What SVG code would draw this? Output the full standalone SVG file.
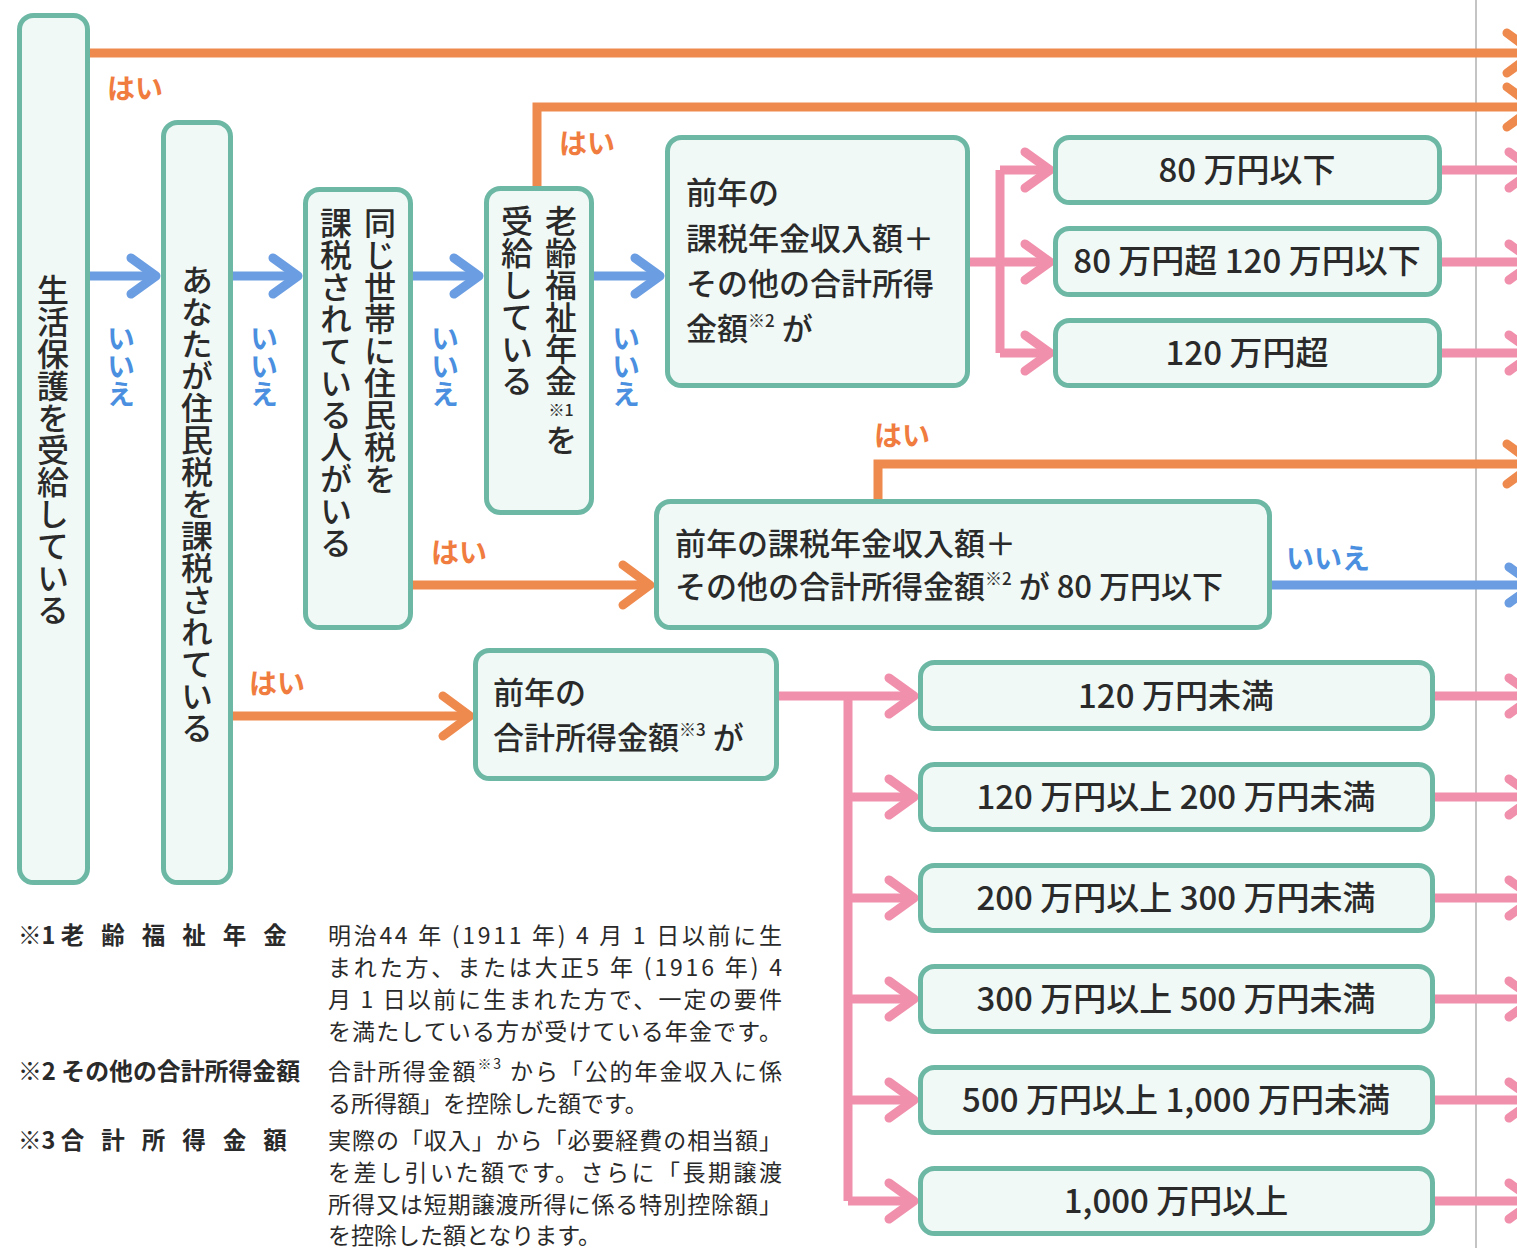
<svg xmlns="http://www.w3.org/2000/svg" width="1517" height="1248" viewBox="0 0 1517 1248">
<style>
.box{fill:#f0f9f6;stroke:#6cb8a5;stroke-width:5}
.t{font-family:"Noto Sans CJK JP","Noto Sans",sans-serif;font-weight:500;fill:#2a2a2a}
.v{writing-mode:vertical-rl}
.big{font-size:32px}
.mid{font-size:31px}
.lab{font-size:33px}
.sup{font-size:17px}
.fn{font-size:23px;font-weight:400}
.fb{font-size:23.5px;font-weight:700}
.yes{font-family:"Noto Sans CJK JP","Noto Sans",sans-serif;font-weight:700;font-size:28px;fill:#f07c40}
.no{font-family:"Noto Sans CJK JP","Noto Sans",sans-serif;font-weight:700;font-size:28px;fill:#4a8fe0}
.c{fill:none;stroke-width:9}
.o{stroke:#ef8a4e}
.b{stroke:#6b9de2}
.p{stroke:#f190ac}
</style>
<defs>
<marker id="mo" markerUnits="userSpaceOnUse" viewBox="0 0 40 50" markerWidth="40" markerHeight="50" refX="31" refY="25" orient="auto"><path d="M6,5 L33,25 L6,45" fill="none" stroke="#ef8a4e" stroke-width="9" stroke-linecap="round" stroke-linejoin="round"/></marker>
<marker id="mb" markerUnits="userSpaceOnUse" viewBox="0 0 38 46" markerWidth="38" markerHeight="46" refX="29" refY="23" orient="auto"><path d="M6,5 L31,23 L6,41" fill="none" stroke="#6b9de2" stroke-width="9" stroke-linecap="round" stroke-linejoin="round"/></marker>
<marker id="mp" markerUnits="userSpaceOnUse" viewBox="0 0 38 46" markerWidth="38" markerHeight="46" refX="29" refY="23" orient="auto"><path d="M6,5 L31,23 L6,41" fill="none" stroke="#f190ac" stroke-width="9" stroke-linecap="round" stroke-linejoin="round"/></marker>
</defs>
<rect width="1517" height="1248" fill="#ffffff"/>
<line x1="1476" y1="0" x2="1476" y2="1248" stroke="#c4c4c4" stroke-width="2"/>

<g id="connectors">
<path class="c o" d="M90,53 H1532" marker-end="url(#mo)"/>
<path class="c o" d="M537,186 V107 H1532" marker-end="url(#mo)"/>
<path class="c b" d="M90,276 H154" marker-end="url(#mb)"/>
<path class="c b" d="M233,276 H296" marker-end="url(#mb)"/>
<path class="c b" d="M413,276 H477" marker-end="url(#mb)"/>
<path class="c b" d="M594,276 H658" marker-end="url(#mb)"/>
<path class="c p" d="M970,262 H1000"/>
<path class="c p" d="M1000,170 V353"/>
<path class="c p" d="M1000,170 H1048" marker-end="url(#mp)"/>
<path class="c p" d="M1000,262 H1048" marker-end="url(#mp)"/>
<path class="c p" d="M1000,353 H1048" marker-end="url(#mp)"/>
<path class="c p" d="M1442,170 H1532" marker-end="url(#mp)"/>
<path class="c p" d="M1442,262 H1532" marker-end="url(#mp)"/>
<path class="c p" d="M1442,353 H1532" marker-end="url(#mp)"/>
<path class="c o" d="M413,585 H648" marker-end="url(#mo)"/>
<path class="c o" d="M878,499 V464 H1532" marker-end="url(#mo)"/>
<path class="c b" d="M1272,585 H1532" marker-end="url(#mb)"/>
<path class="c o" d="M233,716 H468" marker-end="url(#mo)"/>
<path class="c p" d="M779,696 H848"/>
<path class="c p" d="M848,696 V1201"/>
<path class="c p" d="M848,696 H912" marker-end="url(#mp)"/>
<path class="c p" d="M848,797 H912" marker-end="url(#mp)"/>
<path class="c p" d="M848,898 H912" marker-end="url(#mp)"/>
<path class="c p" d="M848,999 H912" marker-end="url(#mp)"/>
<path class="c p" d="M848,1100 H912" marker-end="url(#mp)"/>
<path class="c p" d="M848,1201 H912" marker-end="url(#mp)"/>
<path class="c p" d="M1435,696 H1532" marker-end="url(#mp)"/>
<path class="c p" d="M1435,797 H1532" marker-end="url(#mp)"/>
<path class="c p" d="M1435,898 H1532" marker-end="url(#mp)"/>
<path class="c p" d="M1435,999 H1532" marker-end="url(#mp)"/>
<path class="c p" d="M1435,1100 H1532" marker-end="url(#mp)"/>
<path class="c p" d="M1435,1201 H1532" marker-end="url(#mp)"/>
<text class="yes" x="107" y="99">はい</text>
<text class="yes" x="559" y="154">はい</text>
<text class="yes" x="431" y="563">はい</text>
<text class="yes" x="874" y="446">はい</text>
<text class="yes" x="249" y="694">はい</text>
<text class="no" x="1286" y="569">いいえ</text>
<text class="no v" x="121" y="324">いいえ</text>
<text class="no v" x="264" y="324">いいえ</text>
<text class="no v" x="445" y="324">いいえ</text>
<text class="no v" x="626" y="324">いいえ</text>
</g>

<g id="n1">
<rect class="box" x="19.5" y="15.5" width="68" height="867" rx="14"/>
<text class="t big v" x="53" y="274">生活保護を受給している</text>
</g>
<g id="n2">
<rect class="box" x="163.5" y="122.5" width="67" height="760" rx="14"/>
<text class="t big v" x="197" y="264">あなたが住民税を課税されている</text>
</g>
<g id="n3">
<rect class="box" x="305.5" y="189.5" width="105" height="438" rx="14"/>
<text class="t big v" x="380" y="207">同じ世帯に住民税を</text>
<text class="t big v" x="336" y="207">課税されている人がいる</text>
</g>
<g id="n4">
<rect class="box" x="486.5" y="188.5" width="105" height="324" rx="14"/>
<text class="t big v" x="561" y="205">老齢福祉年金</text>
<text class="t" x="561" y="416" font-size="16" text-anchor="middle">※1</text>
<text class="t big v" x="561" y="424">を</text>
<text class="t big v" x="517" y="205">受給している</text>
</g>
<g id="n5">
<rect class="box" x="667.5" y="137.5" width="300" height="248" rx="14"/>
<text class="t mid" x="686" y="204">前年の</text>
<text class="t mid" x="686" y="250">課税年金収入額＋</text>
<text class="t mid" x="686" y="295">その他の合計所得</text>
<text class="t mid" x="686" y="340">金額<tspan class="sup" dy="-13">※2</tspan><tspan dy="13"> が</tspan></text>
</g>
<g id="r1">
<rect class="box" x="1055.5" y="137.5" width="384" height="65" rx="14"/>
<text class="t lab" x="1247" y="182" text-anchor="middle">80 万円以下</text>
</g>
<g id="r2">
<rect class="box" x="1055.5" y="228.5" width="384" height="66" rx="14"/>
<text class="t lab" x="1247" y="273" text-anchor="middle">80 万円超 120 万円以下</text>
</g>
<g id="r3">
<rect class="box" x="1055.5" y="320.5" width="384" height="65" rx="14"/>
<text class="t lab" x="1247" y="365" text-anchor="middle">120 万円超</text>
</g>
<g id="n6">
<rect class="box" x="656.5" y="501.5" width="613" height="126" rx="14"/>
<text class="t mid" x="675" y="555">前年の課税年金収入額＋</text>
<text class="t mid" x="675" y="598">その他の合計所得金額<tspan class="sup" dy="-13">※2</tspan><tspan dy="13"> が 80 万円以下</tspan></text>
</g>
<g id="n7">
<rect class="box" x="475.5" y="650.5" width="301" height="128" rx="14"/>
<text class="t mid" x="493" y="704">前年の</text>
<text class="t mid" x="493" y="749">合計所得金額<tspan class="sup" dy="-13">※3</tspan><tspan dy="13"> が</tspan></text>
</g>
<g id="i1">
<rect class="box" x="920.5" y="662.5" width="512" height="66" rx="14"/>
<text class="t lab" x="1176" y="708" text-anchor="middle">120 万円未満</text>
</g>
<g id="i2">
<rect class="box" x="920.5" y="764.5" width="512" height="65" rx="14"/>
<text class="t lab" x="1176" y="809" text-anchor="middle">120 万円以上 200 万円未満</text>
</g>
<g id="i3">
<rect class="box" x="920.5" y="865.5" width="512" height="65" rx="14"/>
<text class="t lab" x="1176" y="910" text-anchor="middle">200 万円以上 300 万円未満</text>
</g>
<g id="i4">
<rect class="box" x="920.5" y="966.5" width="512" height="65" rx="14"/>
<text class="t lab" x="1176" y="1011" text-anchor="middle">300 万円以上 500 万円未満</text>
</g>
<g id="i5">
<rect class="box" x="920.5" y="1067.5" width="512" height="65" rx="14"/>
<text class="t lab" x="1176" y="1112" text-anchor="middle">500 万円以上 1,000 万円未満</text>
</g>
<g id="i6">
<rect class="box" x="920.5" y="1168.5" width="512" height="65" rx="14"/>
<text class="t lab" x="1176" y="1213" text-anchor="middle">1,000 万円以上</text>
</g>

<g id="notes">
<text class="t fb" x="18" y="944">※1 <tspan letter-spacing="17">老齢福祉年金</tspan></text>
<text class="t fb" x="18" y="1080" textLength="282" lengthAdjust="spacingAndGlyphs">※2 その他の合計所得金額</text>
<text class="t fb" x="18" y="1149">※3 <tspan letter-spacing="17">合計所得金額</tspan></text>
<text class="t fn" x="328" y="944" textLength="454">明治44 年 (1911 年) 4 月 1 日以前に生</text>
<text class="t fn" x="328" y="976" textLength="454">まれた方、または大正5 年 (1916 年) 4</text>
<text class="t fn" x="328" y="1008" textLength="454">月 1 日以前に生まれた方で、一定の要件</text>
<text class="t fn" x="328" y="1040" textLength="454">を満たしている方が受けている年金です。</text>
<text class="t fn" x="328" y="1080" textLength="454">合計所得金額<tspan font-size="14" dy="-11">※3</tspan><tspan dy="11"> から「公的年金収入に係</tspan></text>
<text class="t fn" x="328" y="1112">る所得額」を控除した額です。</text>
<text class="t fn" x="328" y="1149" textLength="454">実際の「収入」から「必要経費の相当額」</text>
<text class="t fn" x="328" y="1181" textLength="454">を差し引いた額です。さらに「長期譲渡</text>
<text class="t fn" x="328" y="1213" textLength="454">所得又は短期譲渡所得に係る特別控除額」</text>
<text class="t fn" x="328" y="1244">を控除した額となります。</text>
</g>
</svg>
